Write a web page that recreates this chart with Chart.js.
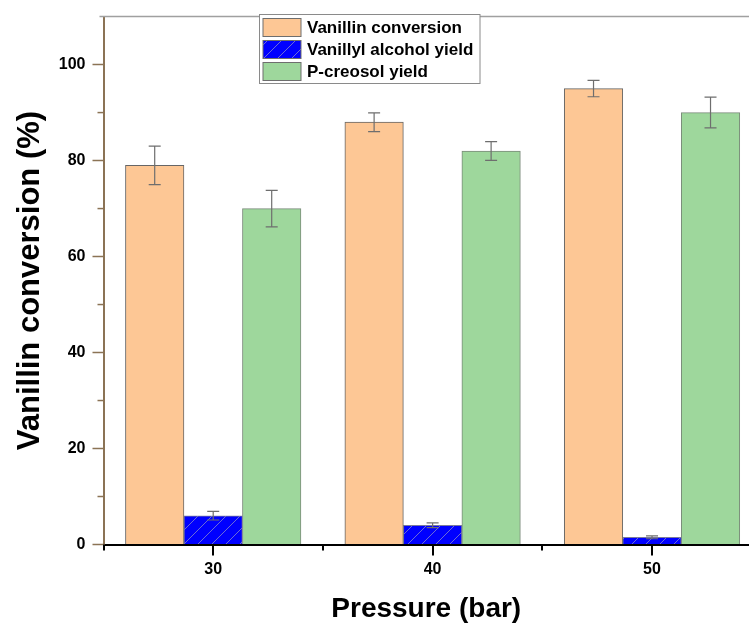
<!DOCTYPE html>
<html>
<head>
<meta charset="utf-8">
<script src="https://cdn.jsdelivr.net/npm/chart.js"></script>
<style>
	html, body { margin: 0; padding: 0; background: #fff; overflow: hidden; }
	canvas { display: block; }
</style>
</head>
<body>
<canvas id="chart" width="749" height="623"></canvas>
<script>
// data
const pressures = [30, 40, 50]
const seriesLabels = ['Vanillin conversion', 'Vanillyl alcohol yield', 'P-creosol yield']
const conversion = [79, 88, 95]
const conversionErr = [4.0, 1.95, 1.7]
const alcoholYield = [6, 4, 1.5]
const alcoholErr = [0.9, 0.5, 0.3]
const creosolYield = [70, 82, 90]
const creosolErr = [3.8, 1.95, 3.2]
const xTickLabels = [30, 40, 50]
const xMinorTicks = [25, 35, 45]
const yTickLabels = [0, 20, 40, 60, 80, 100]
const yMinorTicks = [10, 30, 50, 70, 90]

const font = '"Liberation Sans", Arial, sans-serif'

// hatch for the blue bars
function hatch() {
	const c = document.createElement('canvas')
	c.width = 14
	c.height = 14
	const g = c.getContext('2d')
	g.fillStyle = '#0000ff'
	g.fillRect(0, 0, 14, 14)
	g.strokeStyle = 'rgba(120, 120, 210, 0.9)'
	g.lineWidth = 1
	g.beginPath()
	g.moveTo(0, 14); g.lineTo(14, 0)
	g.moveTo(-7, 7); g.lineTo(7, -7)
	g.moveTo(7, 21); g.lineTo(21, 7)
	g.stroke()
	return g.createPattern(c, 'repeat')
}

const toPoints = (vals) => vals.map((v, i) => ({ x: pressures[i], y: v }))
const errors = [conversionErr, alcoholErr, creosolErr]

// error bars
const errorBars = {
	id: 'errorBars',
	afterDatasetsDraw(chart) {
		const ctx = chart.ctx
		const y = chart.scales.y
		ctx.save()
		ctx.strokeStyle = '#6e6e6e'
		ctx.lineWidth = 1.2
		chart.data.datasets.forEach((ds, i) => {
			const meta = chart.getDatasetMeta(i)
			meta.data.forEach((bar, j) => {
				const v = ds.data[j].y
				const e = errors[i][j]
				const top = y.getPixelForValue(v + e)
				const bot = y.getPixelForValue(v - e)
				ctx.beginPath()
				ctx.moveTo(bar.x, top); ctx.lineTo(bar.x, bot)
				ctx.moveTo(bar.x - 6, top); ctx.lineTo(bar.x + 6, top)
				ctx.moveTo(bar.x - 6, bot); ctx.lineTo(bar.x + 6, bot)
				ctx.stroke()
			})
		})
		ctx.restore()
	}
}

// x ticks, minor y ticks, top frame line
const frame = {
	id: 'frame',
	afterDraw(chart) {
		const ctx = chart.ctx
		const { x, y } = chart.scales
		const area = chart.chartArea
		ctx.save()
		ctx.strokeStyle = '#a0a0a0'
		ctx.lineWidth = 1.5
		ctx.beginPath()
		ctx.moveTo(area.left - 4, area.top)
		ctx.lineTo(749, area.top)
		ctx.stroke()

		ctx.strokeStyle = '#8b7355'
		ctx.lineWidth = 1.5
		yMinorTicks.forEach((v) => {
			const py = y.getPixelForValue(v)
			ctx.beginPath()
			ctx.moveTo(area.left - 6, py); ctx.lineTo(area.left, py)
			ctx.stroke()
		})
		ctx.strokeStyle = '#000'
		ctx.lineWidth = 2
		const tick = (v, len) => {
			const px = Math.round(x.getPixelForValue(v))
			ctx.beginPath()
			ctx.moveTo(px, area.bottom); ctx.lineTo(px, area.bottom + len)
			ctx.stroke()
		}
		xMinorTicks.forEach((v) => tick(v, 6))
		xTickLabels.forEach((v) => tick(v, 11))
		ctx.restore()
	}
}

// legend box inside the plot
const legendBox = {
	id: 'legendBox',
	afterDraw(chart) {
		const ctx = chart.ctx
		ctx.save()
		ctx.fillStyle = '#fff'
		ctx.fillRect(259.5, 14.5, 220.5, 69)
		ctx.strokeStyle = '#8a8a8a'
		ctx.lineWidth = 1
		ctx.strokeRect(259.5, 14.5, 220.5, 69)
		ctx.font = `bold 17px ${font}`
		ctx.textBaseline = 'middle'
		chart.data.datasets.forEach((ds, i) => {
			const top = 18.5 + i * 22
			ctx.fillStyle = ds.backgroundColor
			ctx.fillRect(263, top, 38, 18)
			ctx.strokeStyle = '#6e6e6e'
			ctx.strokeRect(263, top, 38, 18)
			ctx.fillStyle = '#000'
			ctx.fillText(ds.label, 307, top + 10)
		})
		ctx.restore()
	}
}

const ctx = document.getElementById('chart').getContext('2d')
new Chart(ctx, {
	type: 'bar',
	data: {
		datasets: [
			{
				label: seriesLabels[0],
				data: toPoints(conversion),
				backgroundColor: '#fdc795',
				borderColor: '#666666',
				borderWidth: 1,
			},
			{
				label: seriesLabels[1],
				data: toPoints(alcoholYield),
				backgroundColor: hatch(),
				borderColor: '#7a7a9a',
				borderWidth: 1,
			},
			{
				label: seriesLabels[2],
				data: toPoints(creosolYield),
				backgroundColor: '#9ed79c',
				borderColor: '#7a8a7a',
				borderWidth: 1,
			},
		],
	},
	options: {
		responsive: false,
		animation: false,
		barThickness: 58.5,
		layout: { padding: { left: 0, right: 0, top: 14.5, bottom: 0 } },
		plugins: {
			legend: { display: false },
			tooltip: { enabled: false },
		},
		scales: {
			x: {
				type: 'linear',
				min: 25,
				max: 54.42,
				offset: false,
				afterFit: (s) => { s.height = 78.5; s.paddingRight = 0; s.paddingLeft = 0 },
				border: { display: true, color: '#000', width: 2 },
				grid: {
					offset: false,
					drawOnChartArea: false,
					tickLength: 10,
					tickColor: 'rgba(0,0,0,0)',
				},
				ticks: {
					stepSize: 5,
					autoSkip: false,
					maxRotation: 0,
					padding: 5,
					color: '#000',
					font: { family: font, size: 16, weight: 'bold' },
					callback: (v) => xTickLabels.includes(v) ? String(v) : '',
				},
				title: {
					display: true,
					text: 'Pressure (bar)',
					color: '#000',
					font: { family: font, size: 28, weight: 'bold', lineHeight: 1 },
					padding: { top: 0, bottom: 0 },
				},
			},
			y: {
				min: 0,
				max: 110,
				afterFit: (s) => { s.width = 103.5 },
				border: { display: true, color: '#8b7355', width: 2 },
				grid: {
					drawOnChartArea: false,
					tickLength: 11,
					tickWidth: 1.5,
					tickColor: (c) => yTickLabels.includes(c.tick && c.tick.value) ? '#8b7355' : 'rgba(0,0,0,0)',
				},
				ticks: {
					stepSize: 20,
					autoSkip: false,
					padding: 7,
					color: '#000',
					font: { family: font, size: 16, weight: 'bold' },
					callback: (v) => yTickLabels.includes(v) ? String(v) : '',
				},
				title: {
					display: true,
					text: 'Vanillin conversion (%)',
					color: '#000',
					font: { family: font, size: 31, weight: 'bold', lineHeight: 1 },
					padding: { top: 15, bottom: 0 },
				},
			},
		},
	},
	plugins: [errorBars, frame, legendBox],
})
</script>
</body>
</html>
